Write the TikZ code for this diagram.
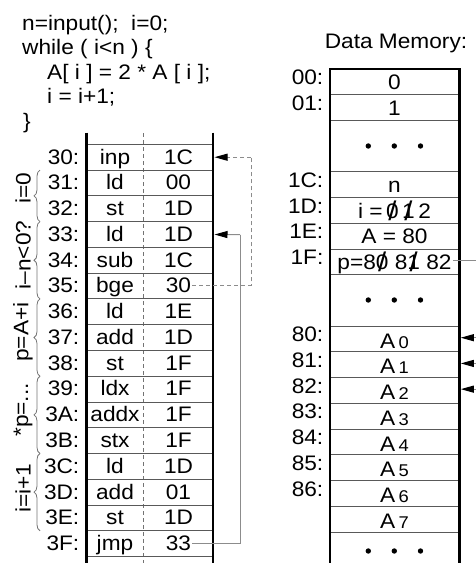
\documentclass[tikz,border=0pt]{standalone}
\usepackage{fontspec}
\setmainfont[FakeStretch=1.08]{Liberation Sans}
\usetikzlibrary{arrows.meta,decorations.pathreplacing}

% struck-through digit
\newcommand\strk[1]{\ooalign{#1\cr\hidewidth\raisebox{-2pt}{\fontsize{27}{27}\selectfont/}\hidewidth\cr}}
% array element with small index
\newcommand\elem[1]{A\,{\fontsize{17}{17}\selectfont #1}}

\tikzset{
  txt/.style={font=\fontsize{21}{24}\selectfont, inner sep=1pt, anchor=base},
  addr/.style={txt, anchor=base east},
  wall/.style={line width=2.6pt},
  rowline/.style={black!65, line width=0.9pt},
  colline/.style={black!55, line width=0.8pt, dash pattern=on 4pt off 3pt},
  link/.style={black!45, line width=1pt},
  dlink/.style={link, dash pattern=on 4pt off 3pt},
  tip/.style={-{Triangle[length=13pt,width=7pt,color=black]}},
  grp/.style={black!55, line width=0.8pt, decorate, decoration={brace, amplitude=6pt}},
  dot/.style={circle, fill=black, inner sep=0pt, minimum size=5.4pt}
}

\begin{document}
\begin{tikzpicture}[x=1pt,y=-1pt]
\useasboundingbox (0,0) rectangle (476,563);

% source code
\node[txt, anchor=base west, inner sep=0pt] (code1) at (22,30) {n=input();\ \ i=0;};
\node[txt, anchor=base west, inner sep=0pt] (code2) at (22,54.5) {while ( i<n ) \{};
\node[txt, anchor=base west, inner sep=0pt] (code3) at (47,79) {A[ i ] = 2 * A [ i ];};
\node[txt, anchor=base west, inner sep=0pt] (code4) at (47,103.5) {i = i+1;};
\node[txt, anchor=base west, inner sep=0pt] (code5) at (23,128) {\}};

% program memory
\draw[colline] (143.5,133) -- (143.5,563);
\draw[rowline] (86.5,144.3) -- (213,144.3);
\foreach \ad/\op/\ar [count=\k from 0] in {30/inp/1C, 31/ld/00, 32/st/1D, 33/ld/1D,
    34/sub/1C, 35/bge/30, 36/ld/1E, 37/add/1D, 38/st/1F, 39/ldx/1F, 3A/addx/1F,
    3B/stx/1F, 3C/ld/1D, 3D/add/01, 3E/st/1D, 3F/jmp/33} {
  \pgfmathsetmacro\yt{144.3+\k*25.77}
  \node[addr] (a\ad) at (80.5,\yt+19.7) {\ad:};
  \node[txt] (o\ad) at (115,\yt+19.7) {\op};
  \node[txt] (v\ad) at (178.5,\yt+19.7) {\ar};
  \coordinate (w\ad) at (214.5,\yt+12.9);
  \draw[rowline] (86.5,\yt+25.77) -- (213,\yt+25.77);
}
\draw[wall] (86.5,132.7) -- (86.5,563);
\draw[wall] (213,132.7) -- (213,563);

% jumps
\coordinate (bendA) at (251,157.2);
\coordinate (bendB) at (240,234.6);
\draw[dlink] (v35.east) -| (bendA);
\draw[dlink, tip] (bendA) -- (w30);
\draw[link] (v3F.east) -| (bendB);
\draw[link, tip] (bendB) -- (w33);

% groups of instructions
\draw[grp] (40,221.6) -- (40,170.1);
\draw[grp] (40,298.9) -- (40,221.6);
\draw[grp] (40,376.2) -- (40,298.9);
\draw[grp] (40,453.5) -- (40,376.2);
\draw[grp] (40,530.8) -- (40,453.5);
\node[txt, anchor=center, rotate=90] (g1) at (23,188) {i=0};
\node[txt, anchor=center, rotate=90] (g2) at (23,255) {i\textendash n<0?};
\node[txt, anchor=center, rotate=90] (g3) at (23,332) {p=A+i};
\node[txt, anchor=center, rotate=90] (g4) at (23,410) {*p=...};
\node[txt, anchor=center, rotate=90] (g5) at (23,488) {i=i+1};

% data memory
\node[txt] (title) at (396,48) {Data Memory:};
\foreach \s in {1,2,4,5,6,7,8,10,11,12,13,14,15,16,17,18}
  \draw[rowline] (330,69+\s*25.72) -- (459.3,69+\s*25.72);
\foreach \ad/\val/\s in {00/0/0, 01/1/1, 1C/n/4, 1D/{i =\,\strk{0}\,\strk{1}\,2}/5,
    1E/{A = 80}/6, 1F/{p=8\strk{0} 8\strk{1} 82}/7} {
  \node[addr] (d\ad) at (324.5,69+\s*25.72+15.5) {\ad:};
  \node[txt] (v\ad) at (394.5,69+\s*25.72+20.5) {\val};
}
\foreach \n [count=\k from 0] in {0,...,6} {
  \pgfmathsetmacro\yt{69+(\k+10)*25.72}
  \node[addr] (d8\n) at (324.5,\yt+15.5) {8\n:};
  \node[txt] (e\n) at (394.5,\yt+22) {\elem{\n}};
  \coordinate (w8\n) at (460.8,\yt+11.5);
}
\node[txt] (e7) at (394.5,69+17*25.72+22) {\elem{7}};
\foreach \y [count=\k] in {146,300,551} {
  \node[dot] (dots\k b) at (394.3,\y) {};
  \node[dot] (dots\k a) at (368.3,\y) {};
  \node[dot] (dots\k c) at (420.5,\y) {};
}
\draw[wall] (330,563) -- (330,69) -- (459.3,69) -- (459.3,563);

% pointer p
\coordinate (pout) at (476,260.7);
\draw[link] (pout -| v1F.east) -- (pout);
\foreach \n in {0,1,2} {
  \coordinate (in\n) at (476,0 |- w8\n);
  \draw[link, tip] (in\n) -- (w8\n);
}
\end{tikzpicture}
\end{document}
